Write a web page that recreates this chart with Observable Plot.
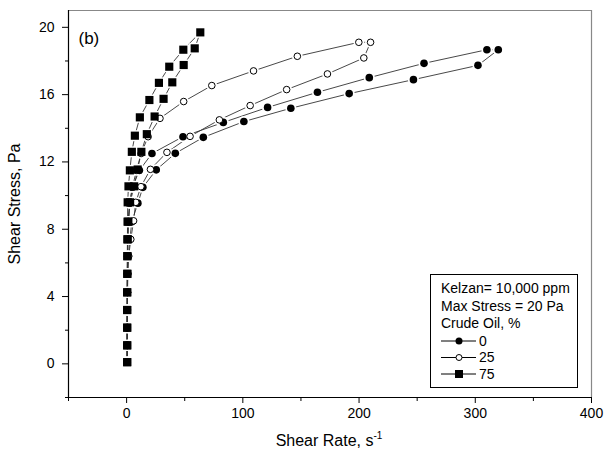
<!DOCTYPE html>
<html><head><meta charset="utf-8">
<script src="https://cdn.jsdelivr.net/npm/d3@7"></script>
<script src="https://cdn.jsdelivr.net/npm/@observablehq/plot@0.6"></script>
<style>
body{margin:0;background:#fff;}
#chart{position:relative;width:605px;height:456px;}
</style></head><body><div id="chart"></div>
<script>
const FONT = '"Liberation Sans", Arial, Helvetica, sans-serif';

// 0 % crude oil (filled circles): ramp up then down
const oil0UpStress = [0.1, 1.1, 2.15, 3.2, 4.25, 5.35, 6.4, 7.4, 8.45, 9.55, 10.5, 11.5, 12.5, 13.5, 14.35, 15.24, 16.14, 17.01, 17.86, 18.67];
const oil0UpRate   = [0.5, 0.5, 0.5, 0.6, 0.6, 0.7, 0.8, 1.0, 1.4, 2.5, 5, 11, 21.8, 48.5, 83.2, 121.3, 164.2, 208.8, 255.9, 310];
const oil0DnStress = [18.67, 17.74, 16.89, 16.06, 15.19, 14.4, 13.46, 12.51, 11.53, 10.49, 9.55, 8.45, 7.4, 6.4, 5.35, 4.25, 3.2, 2.15, 1.1, 0.1];
const oil0DnRate   = [319.8, 302.3, 246.8, 191.5, 141.3, 100.9, 66, 41.9, 25.5, 14, 9.7, 4.5, 2.8, 1.5, 0.9, 0.7, 0.6, 0.5, 0.5, 0.5];

// 25 % crude oil (open circles)
const oil25UpStress = [0.1, 1.1, 2.15, 3.2, 4.25, 5.35, 6.4, 7.4, 8.45, 9.55, 10.5, 11.5, 12.5, 13.5, 14.59, 15.59, 16.54, 17.41, 18.28, 19.11];
const oil25UpRate   = [0.5, 0.5, 0.5, 0.6, 0.6, 0.7, 0.8, 1.0, 1.5, 2.8, 5, 8.5, 12.5, 18.5, 28.7, 49.1, 73.3, 109.2, 146.9, 199.8];
const oil25DnStress = [19.11, 18.18, 17.23, 16.3, 15.35, 14.5, 13.52, 12.57, 11.56, 10.53, 9.6, 8.5, 7.4, 6.4, 5.35, 4.25, 3.2, 2.15, 1.1, 0.1];
const oil25DnRate   = [209.9, 204.1, 172.8, 137.7, 106.3, 79.8, 54.6, 34.7, 20.5, 12.3, 7.9, 6.0, 3.6, 1.8, 1.0, 0.8, 0.6, 0.5, 0.5, 0.5];

// 75 % crude oil (filled squares)
const oil75UpStress = [0.1, 1.1, 2.15, 3.2, 4.25, 5.35, 6.4, 7.4, 8.45, 9.6, 10.55, 11.5, 12.6, 13.56, 14.65, 15.68, 16.7, 17.66, 18.67, 19.7];
const oil75UpRate   = [0.5, 0.5, 0.5, 0.5, 0.5, 0.6, 0.6, 0.7, 0.8, 0.9, 1.6, 2.8, 4.5, 7.1, 11.4, 19.6, 27.8, 36.7, 48.8, 63.4];
const oil75DnStress = [18.75, 17.76, 16.73, 15.75, 14.7, 13.65, 12.6, 11.55, 10.55, 9.6, 8.45, 7.4, 6.4, 5.35, 4.25, 3.2, 2.15, 1.1, 0.1];
const oil75DnRate   = [58.6, 49.1, 39.3, 31.8, 24.1, 17.4, 12.7, 9.5, 6.5, 3.0, 1.5, 0.9, 0.7, 0.6, 0.5, 0.5, 0.5, 0.5, 0.5];

const seriesNames = ["0", "25", "75"];
const xTicks = [0, 100, 200, 300, 400];
const xMinor = [-50, 50, 150, 250, 350];
const yTicks = [0, 4, 8, 12, 16, 20];
const yMinor = [-2, 2, 6, 10, 14, 18];
const legendHead = ["Kelzan= 10,000 ppm", "Max Stress = 20 Pa", "Crude Oil, %"];

const rows = [];
function addBranch(name, S, R) { S.forEach((s, i) => rows.push({series: name, stress: s, rate: R[i]})); }
addBranch("0", oil0UpStress, oil0UpRate); addBranch("0", oil0DnStress, oil0DnRate);
addBranch("25", oil25UpStress, oil25UpRate); addBranch("25", oil25DnStress, oil25DnRate);
addBranch("75", oil75UpStress, oil75UpRate); addBranch("75", oil75DnStress, oil75DnRate);

const s0 = rows.filter(d => d.series === "0");
const s25 = rows.filter(d => d.series === "25");
const s75 = rows.filter(d => d.series === "75");

const chart = Plot.plot({
  width: 605, height: 456,
  marginLeft: 68, marginRight: 14, marginTop: 10, marginBottom: 59,
  x: {domain: [-50, 400]},
  y: {domain: [-2, 21]},
  style: {fontFamily: FONT, fontSize: "14px", color: "#000", background: "#fff", overflow: "visible"},
  marks: [
    Plot.ruleX([400], {stroke: "#888", strokeWidth: 1.2}),
    Plot.ruleY([21], {stroke: "#888", strokeWidth: 1.2}),
    Plot.line(rows, {x: "rate", y: "stress", z: "series", stroke: "#333", strokeWidth: 0.9}),
    Plot.dot(s0, {x: "rate", y: "stress", r: 5.6, fill: "#fff"}),
    Plot.dot(s25, {x: "rate", y: "stress", r: 5.4, fill: "#fff"}),
    Plot.dot(s75, {x: "rate", y: "stress", r: 6.2, symbol: "square", fill: "#fff"}),
    Plot.dot(s0, {x: "rate", y: "stress", r: 3.8, fill: "#000"}),
    Plot.dot(s25, {x: "rate", y: "stress", r: 3.3, fill: "#fff", stroke: "#000", strokeWidth: 1}),
    Plot.dot(s75, {x: "rate", y: "stress", r: 4.6, symbol: "square", fill: "#000"}),
    Plot.ruleX([-50], {stroke: "#000", strokeWidth: 1.2}),
    Plot.ruleY([-2], {stroke: "#000", strokeWidth: 1.2}),
    Plot.axisY({ticks: yTicks, tickSize: 6, tickPadding: 8, fontSize: 14, label: null}),
    Plot.axisY({ticks: yMinor, tickSize: 3, tickFormat: () => "", label: null}),
    Plot.axisX({ticks: xTicks, tickSize: 6, tickPadding: 5, fontSize: 14, label: null}),
    Plot.axisX({ticks: xMinor, tickSize: 4, tickFormat: () => "", label: null}),
    Plot.text(["(b)"], {frameAnchor: "top-left", dx: 10, dy: 21, fontSize: 17, textAnchor: "start"})
  ]
});
document.getElementById("chart").appendChild(chart);

const svg = d3.select(chart);
// axis titles
const xt = svg.append("text").attr("x", 329).attr("y", 446).attr("text-anchor", "middle")
  .attr("font-family", FONT).attr("font-size", 16).attr("fill", "#000");
xt.append("tspan").text("Shear Rate, s");
xt.append("tspan").attr("font-size", 10).attr("dy", -7).text("-1");
svg.append("text").attr("transform", "translate(20,204) rotate(-90)").attr("text-anchor", "middle")
  .attr("font-family", FONT).attr("font-size", 16).attr("fill", "#000").text("Shear Stress, Pa");

// legend box
const lg = svg.append("g").attr("font-family", FONT).attr("font-size", 14).attr("fill", "#000").attr("text-anchor", "start");
lg.append("rect").attr("x", 430.5).attr("y", 274.5).attr("width", 147).attr("height", 113)
  .attr("fill", "#fff").attr("stroke", "#000").attr("stroke-width", 1);
const rowY = [288.5, 306, 323.5, 341, 357.5, 374];
legendHead.forEach((t, i) => lg.append("text").attr("x", 441).attr("y", rowY[i]).attr("dy", "0.35em").attr("text-anchor", "start").text(t));
seriesNames.forEach((name, i) => {
  const y = rowY[3 + i];
  lg.append("line").attr("x1", 441).attr("x2", 476).attr("y1", y).attr("y2", y).attr("stroke", "#000").attr("stroke-width", 1);
  if (name === "0") lg.append("circle").attr("cx", 459).attr("cy", y).attr("r", 3.5).attr("fill", "#000");
  else if (name === "25") lg.append("circle").attr("cx", 459).attr("cy", y).attr("r", 3).attr("fill", "#fff").attr("stroke", "#000");
  else lg.append("rect").attr("x", 455).attr("y", y - 4).attr("width", 8).attr("height", 8).attr("fill", "#000");
  lg.append("text").attr("x", 479).attr("y", y).attr("dy", "0.35em").attr("text-anchor", "start").text(name);
});
</script></body></html>
